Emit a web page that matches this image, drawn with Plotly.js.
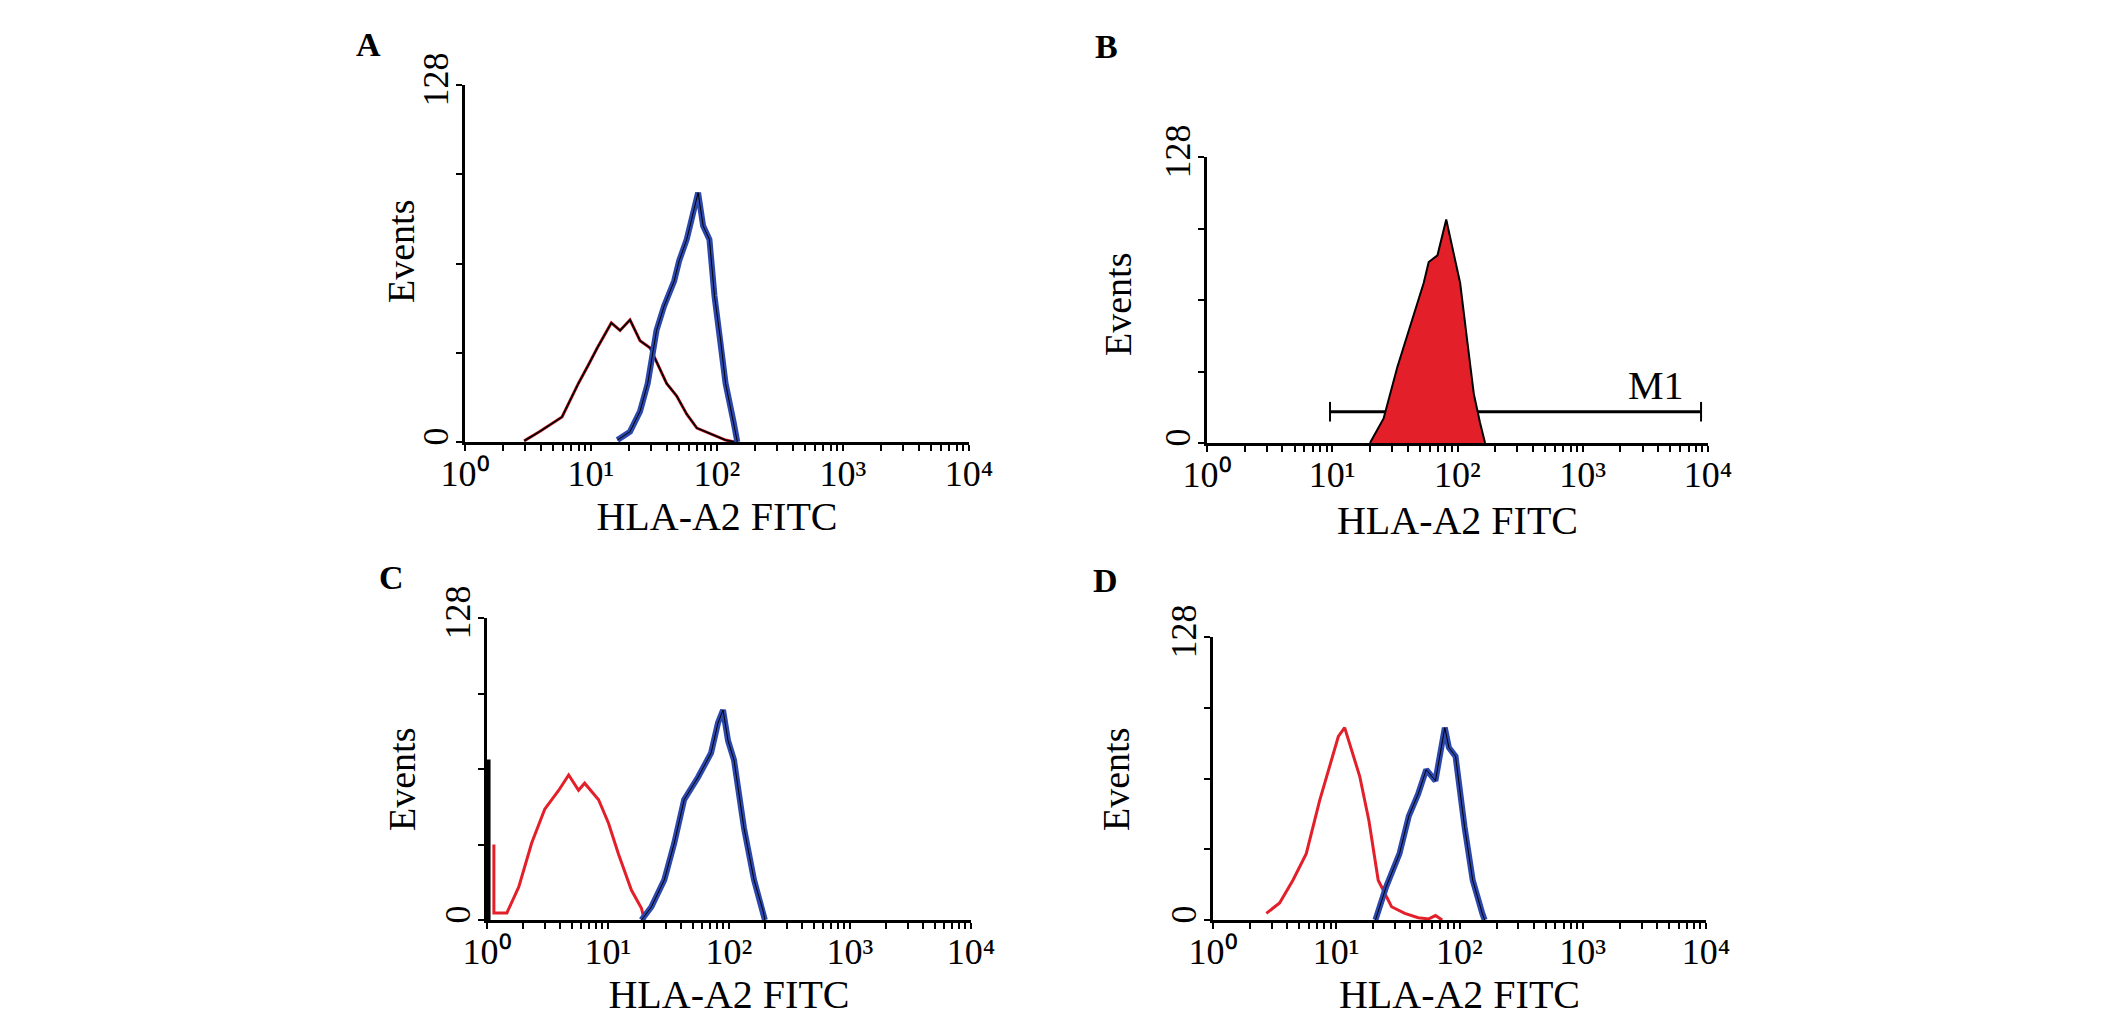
<!DOCTYPE html>
<html>
<head>
<meta charset="utf-8">
<script src="https://cdn.plot.ly/plotly-3.0.1.min.js"></script>
<style>
  body { margin: 0; background: #ffffff; }
  #chart { width: 2126px; height: 1017px; }
</style>
</head>
<body>
<div id="chart"></div>
<script>
// tick labels
var xTickVals = [1, 10, 100, 1000, 10000];
var xTickText = ['10\u2070', '10\u00B9', '10\u00B2', '10\u00B3', '10\u2074'];
var xMinorVals = [2, 3, 4, 5, 6, 7, 8, 9,
                  20, 30, 40, 50, 60, 70, 80, 90,
                  200, 300, 400, 500, 600, 700, 800, 900,
                  2000, 3000, 4000, 5000, 6000, 7000, 8000, 9000];
var yTickVals = [0, 128];
var yTickText = ['0', '128'];
var yMinorVals = [32, 64, 96];

// panel A
var aIsoX = [2.95, 3.89, 5.89, 7.94, 9.55, 11.2, 14.5, 17.0, 20.4, 24.5, 29.5, 33.1, 39.8, 47.9, 57.5, 69.2, 93.3, 117, 138];
var aIsoY = [0.4, 3.7, 9, 21, 27.7, 33.7, 42.7, 40, 43.8, 36.3, 33.7, 28.8, 21, 16.5, 10, 5, 2.6, 0.7, 0];
var aStainX = [16.2, 20.4, 24.5, 28.2, 33.1, 38.0, 45.7, 50.1, 57.5, 64.6, 70.8, 77.6, 87.1, 95.5, 107, 117, 135, 145];
var aStainY = [0.7, 3.7, 11, 21, 40, 48.7, 57.7, 65, 72.6, 82.3, 89.4, 77.5, 72.6, 52.4, 36.3, 21, 7.5, 0];

// panel B
var bStainX = [20.0, 25.7, 33.1, 42.7, 53.7, 58.9, 69.2, 81.3, 93.3, 105, 120, 135, 151, 166];
var bStainY = [0, 11, 34, 54, 71.6, 81, 84, 100, 84, 71.6, 45, 22, 9.3, 0];
var bGateX = [9.6, 8800];
var bGateY = [14, 14];

// panel C
var cIsoX = [1.14, 1.14, 1.46, 1.83, 2.34, 3.0, 3.92, 4.73, 5.71, 6.41, 8.36, 10.1, 12.2, 15.6, 18.9, 20];
var cIsoY = [32, 3, 3, 14, 32.6, 47, 55, 61.5, 55, 58, 51, 41, 28, 12.7, 5, 0];
var cSpikeX = [1.03, 1.03];
var cSpikeY = [0, 68];
var cStainX = [18.9, 22.8, 29.2, 35.3, 42.6, 55.6, 71.1, 81.1, 89.3, 98.2, 110, 133, 161, 191, 198];
var cStainY = [0, 5.5, 17, 32.6, 51, 60.6, 70.8, 83.5, 89, 76, 67.8, 39, 17, 4, 0];

// panel D
var dIsoX = [2.71, 3.47, 4.45, 5.71, 7.33, 8.73, 10.4, 11.7, 13.3, 15.5, 18.4, 21.9, 28.1, 36.0, 46.2, 56.3, 63.8, 72.4];
var dIsoY = [3, 7.7, 18, 30, 54, 69, 83, 87, 77, 65, 45, 18, 6, 3, 1, 0.5, 2, 0];
var dStainX = [20.8, 25.4, 32.6, 38.8, 46.2, 53.7, 63.8, 76.0, 82.0, 92.9, 110, 128, 153, 160];
var dStainY = [0, 15, 30, 47, 57, 68, 63, 87, 78, 74, 42, 18, 3, 0];

var red = '#e3202a';
var blue = '#2c48ad';
var serif = 'Liberation Serif';

function line(x, y, ax, color, width) {
  return {
    x: x, y: y, xaxis: 'x' + ax, yaxis: 'y' + ax,
    type: 'scatter', mode: 'lines', hoverinfo: 'skip',
    line: {color: color, width: width}
  };
}

var data = [
  line(aIsoX, aIsoY, '', red, 3),
  line(aIsoX, aIsoY, '', 'black', 1.8),
  line(aStainX, aStainY, '', blue, 6),
  line(aStainX, aStainY, '', 'black', 1),

  {
    x: bGateX, y: bGateY, xaxis: 'x2', yaxis: 'y2',
    type: 'scatter', mode: 'lines+markers', hoverinfo: 'skip',
    line: {color: 'black', width: 3},
    marker: {symbol: 'line-ns-open', size: 14, line: {color: 'black', width: 2}}
  },
  {
    x: bStainX, y: bStainY, xaxis: 'x2', yaxis: 'y2',
    type: 'scatter', mode: 'lines', fill: 'tozeroy', hoverinfo: 'skip',
    fillcolor: red, line: {color: 'black', width: 2}
  },

  line(cSpikeX, cSpikeY, '3', 'black', 4),
  line(cIsoX, cIsoY, '3', red, 3),
  line(cStainX, cStainY, '3', blue, 6),
  line(cStainX, cStainY, '3', 'black', 1),

  line(dIsoX, dIsoY, '4', red, 3),
  line(dStainX, dStainY, '4', blue, 6),
  line(dStainX, dStainY, '4', 'black', 1)
];

function xAxis(domain, anchor, standoff) {
  return {
    domain: domain, anchor: anchor, type: 'log', range: [0, 4],
    tickvals: xTickVals, ticktext: xTickText,
    ticks: 'outside', ticklen: 6, tickwidth: 2, tickcolor: 'black',
    ticklabelstandoff: -8,
    minor: {tickvals: xMinorVals, ticks: 'outside', ticklen: 6, tickwidth: 2, tickcolor: 'black', showgrid: false},
    showline: true, linecolor: 'black', linewidth: 3,
    showgrid: false, zeroline: false,
    tickfont: {family: serif, size: 36, color: 'black'},
    title: {text: 'HLA-A2 FITC', font: {family: serif, size: 40, color: 'black'}, standoff: standoff}
  };
}

function yAxis(domain, anchor) {
  return {
    domain: domain, anchor: anchor, range: [0, 128],
    tickvals: yTickVals, ticktext: yTickText, tickangle: -90,
    ticks: 'outside', ticklen: 6, tickwidth: 2, tickcolor: 'black',
    ticklabelstandoff: -6,
    minor: {tickvals: yMinorVals, ticks: 'outside', ticklen: 6, tickwidth: 2, tickcolor: 'black', showgrid: false},
    showline: true, linecolor: 'black', linewidth: 3,
    showgrid: false, zeroline: false,
    tickfont: {family: serif, size: 36, color: 'black'}
  };
}

function letter(t, x, y) {
  return {
    text: '<b>' + t + '</b>', xref: 'paper', yref: 'paper',
    x: x / 2126, y: 1 - y / 1017, xanchor: 'center', yanchor: 'middle',
    showarrow: false,
    font: {family: serif, size: 34, color: 'black'}
  };
}

function events(x, y) {
  return {
    text: 'Events', xref: 'paper', yref: 'paper', textangle: -90,
    x: x / 2126, y: 1 - y / 1017, xanchor: 'center', yanchor: 'middle',
    showarrow: false,
    font: {family: serif, size: 38, color: 'black'}
  };
}

var layout = {
  width: 2126,
  height: 1017,
  margin: {l: 0, r: 0, t: 0, b: 0},
  paper_bgcolor: 'white',
  plot_bgcolor: 'white',
  showlegend: false,
  xaxis:  xAxis([465 / 2126, 969 / 2126], 'y', 4),
  yaxis:  yAxis([1 - 442 / 1017, 1 - 85 / 1017], 'x'),
  xaxis2: xAxis([1207 / 2126, 1708 / 2126], 'y2', 12),
  yaxis2: yAxis([1 - 443 / 1017, 1 - 157 / 1017], 'x2'),
  xaxis3: xAxis([487 / 2126, 971 / 2126], 'y3', 14),
  yaxis3: yAxis([1 - 920 / 1017, 1 - 618 / 1017], 'x3'),
  xaxis4: xAxis([1213 / 2126, 1706 / 2126], 'y4', 14),
  yaxis4: yAxis([1 - 920 / 1017, 1 - 637 / 1017], 'x4'),
  annotations: [
    letter('A', 368, 45),
    letter('B', 1106, 46),
    letter('C', 391, 577),
    letter('D', 1105, 580),
    events(401, 252),
    events(1118, 305),
    events(402, 780),
    events(1116, 780),
    {
      text: 'M1', xref: 'paper', yref: 'paper',
      x: 1656 / 2126, y: 1 - 386 / 1017, xanchor: 'center', yanchor: 'middle',
      showarrow: false,
      font: {family: serif, size: 40, color: 'black'}
    }
  ]
};

Plotly.newPlot('chart', data, layout, {staticPlot: true});
</script>
</body>
</html>
